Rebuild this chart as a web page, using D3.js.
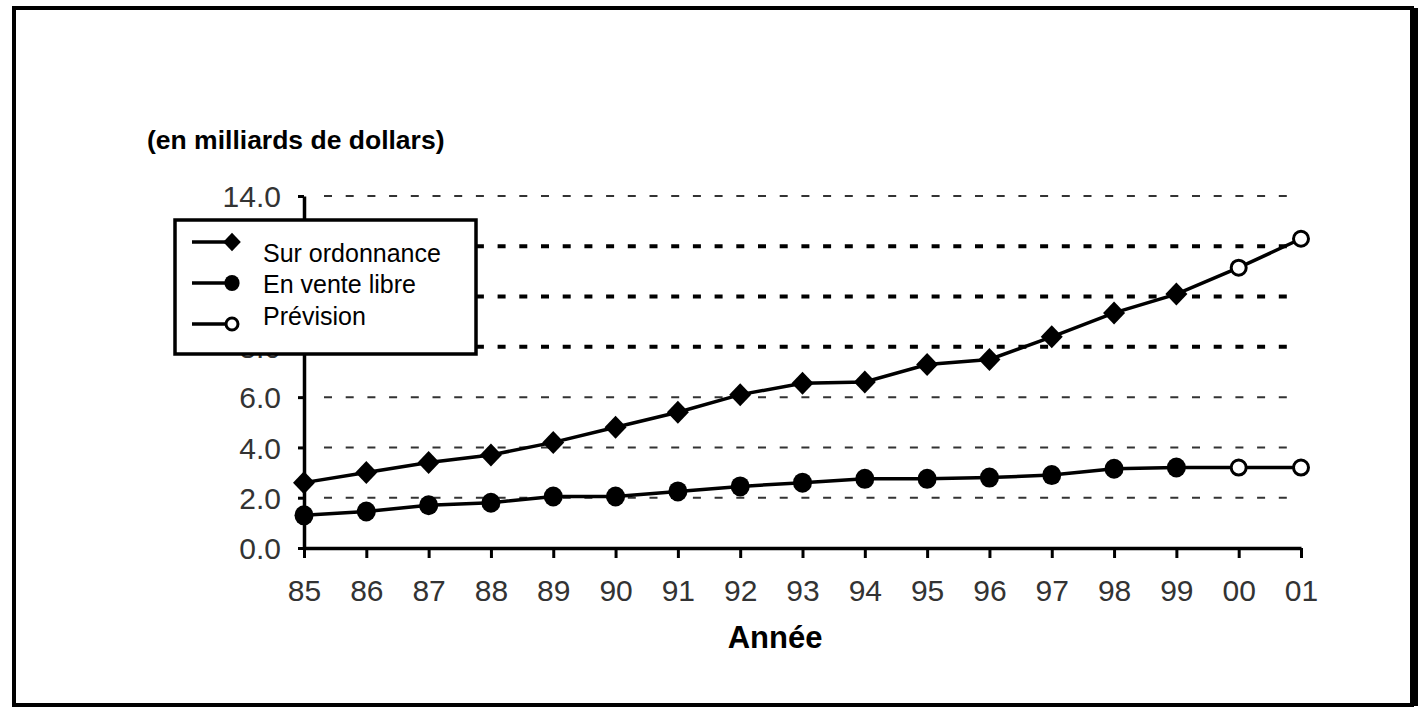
<!DOCTYPE html>
<html>
<head>
<meta charset="utf-8">
<script src="https://cdn.jsdelivr.net/npm/d3@7/dist/d3.min.js"></script>
<style>
  body { margin: 0; background: #fff; }
  svg { display: block; font-family: "Liberation Sans", Arial, sans-serif; }
</style>
</head>
<body>
<div id="chart"></div>
<script>
// data (milliards de dollars)
const years = ["85", "86", "87", "88", "89", "90", "91", "92", "93", "94", "95", "96", "97", "98", "99", "00", "01"];
const surOrdonnance = [2.6, 3.0, 3.4, 3.7, 4.2, 4.8, 5.4, 6.1, 6.55, 6.6, 7.3, 7.5, 8.4, 9.35, 10.1, 11.15, 12.3];
const enVenteLibre = [1.3, 1.45, 1.7, 1.8, 2.05, 2.05, 2.25, 2.45, 2.6, 2.75, 2.75, 2.8, 2.9, 3.15, 3.2, 3.2, 3.2];
const forecastYears = ["00", "01"];
const yTicks = [0, 2, 4, 6, 8, 10, 12, 14];
const legendLabels = ["Sur ordonnance", "En vente libre", "Prévision"];

const W = 1422, H = 707;
const svg = d3.select("#chart")
    .append("svg")
    .attr("width", W)
    .attr("height", H);

// outer frame
svg.append("rect")
    .attr("x", 14).attr("y", 8)
    .attr("width", 1398).attr("height", 697)
    .attr("fill", "#fff")
    .attr("stroke", "#000")
    .attr("stroke-width", 4);
svg.append("line")
    .attr("x1", 1414).attr("x2", 1414)
    .attr("y1", 8).attr("y2", 706)
    .attr("stroke", "#000").attr("stroke-width", 8);

const x = d3.scalePoint().domain(years).range([304, 1301]);
const y = d3.scaleLinear().domain([0, 14]).range([548, 196]);

// dotted gridlines (8, 10, 12 come out heavier in the original)
const heavy = [8, 10, 12];
svg.append("g").selectAll("line")
    .data(yTicks.filter(d => d > 0))
    .enter()
    .append("line")
    .attr("x1", 324).attr("x2", 1296)
    .attr("y1", d => y(d)).attr("y2", d => y(d))
    .attr("stroke", d => heavy.includes(d) ? "#000" : "#333")
    .attr("stroke-width", d => heavy.includes(d) ? 4 : 2)
    .attr("stroke-dasharray", "8,13.7");

// axes
const yAxis = svg.append("g")
    .attr("transform", "translate(304,0)")
    .call(d3.axisLeft(y).tickValues(yTicks).tickFormat(d3.format(".1f")).tickSize(6).tickSizeOuter(0).tickPadding(17));
const xAxis = svg.append("g")
    .attr("transform", "translate(0,548)")
    .call(d3.axisBottom(x).tickSize(10).tickSizeOuter(0).tickPadding(22));

[yAxis, xAxis].forEach(a => {
    a.select(".domain").attr("stroke", "#000").attr("stroke-width", 3.5);
    a.selectAll(".tick line").attr("stroke", "#000").attr("stroke-width", 3);
    a.selectAll(".tick text")
        .attr("font-size", 30)
        .attr("font-family", "Liberation Sans, Arial, sans-serif")
        .attr("fill", "#333");
});
yAxis.selectAll(".tick text").attr("dy", "0.36em");

// titles
svg.append("text")
    .attr("x", 147).attr("y", 149)
    .attr("font-size", 26.5).attr("font-weight", "bold")
    .text("(en milliards de dollars)");
svg.append("text")
    .attr("x", 775).attr("y", 648)
    .attr("text-anchor", "middle")
    .attr("font-size", 31).attr("font-weight", "bold")
    .text("Année");

// markers
function marker(g, kind, s) {
    if (kind === 0) {
        g.append("path").attr("d", `M0,${-11.5 * s}L${11 * s},0L0,${11.5 * s}L${-11 * s},0Z`).attr("fill", "#000");
    } else if (kind === 1) {
        g.append("ellipse").attr("rx", 9.5 * s).attr("ry", 10 * s).attr("fill", "#000");
    } else {
        g.append("circle").attr("r", 7.5 * s).attr("fill", "#fff")
            .attr("stroke", "#000").attr("stroke-width", 3);
    }
}

const line = d3.line()
    .x(d => x(d.year))
    .y(d => y(d.value));

[surOrdonnance, enVenteLibre].forEach((series, si) => {
    const pts = years.map((yr, i) => ({ year: yr, value: series[i] }));
    svg.append("path")
        .datum(pts)
        .attr("d", line)
        .attr("fill", "none")
        .attr("stroke", "#000")
        .attr("stroke-width", 3.5);
    svg.append("g").selectAll("g")
        .data(pts)
        .enter()
        .append("g")
        .attr("transform", d => `translate(${x(d.year)},${y(d.value)})`)
        .each(function(d) {
            marker(d3.select(this), forecastYears.includes(d.year) ? 2 : si, 1);
        });
});

// legend
const legend = svg.append("g");
legend.append("rect")
    .attr("x", 175).attr("y", 220)
    .attr("width", 301).attr("height", 134)
    .attr("fill", "#fff")
    .attr("stroke", "#000")
    .attr("stroke-width", 3.5);
const markerY = [242, 283, 324];
const textY = [262, 293, 325];
legendLabels.forEach((lab, i) => {
    legend.append("line")
        .attr("x1", 192).attr("x2", 232)
        .attr("y1", markerY[i]).attr("y2", markerY[i])
        .attr("stroke", "#000").attr("stroke-width", 3.5);
    marker(legend.append("g").attr("transform", `translate(232,${markerY[i]})`), i, 0.8);
    legend.append("text")
        .attr("x", 263).attr("y", textY[i])
        .attr("font-size", 25)
        .text(lab);
});
</script>
</body>
</html>
